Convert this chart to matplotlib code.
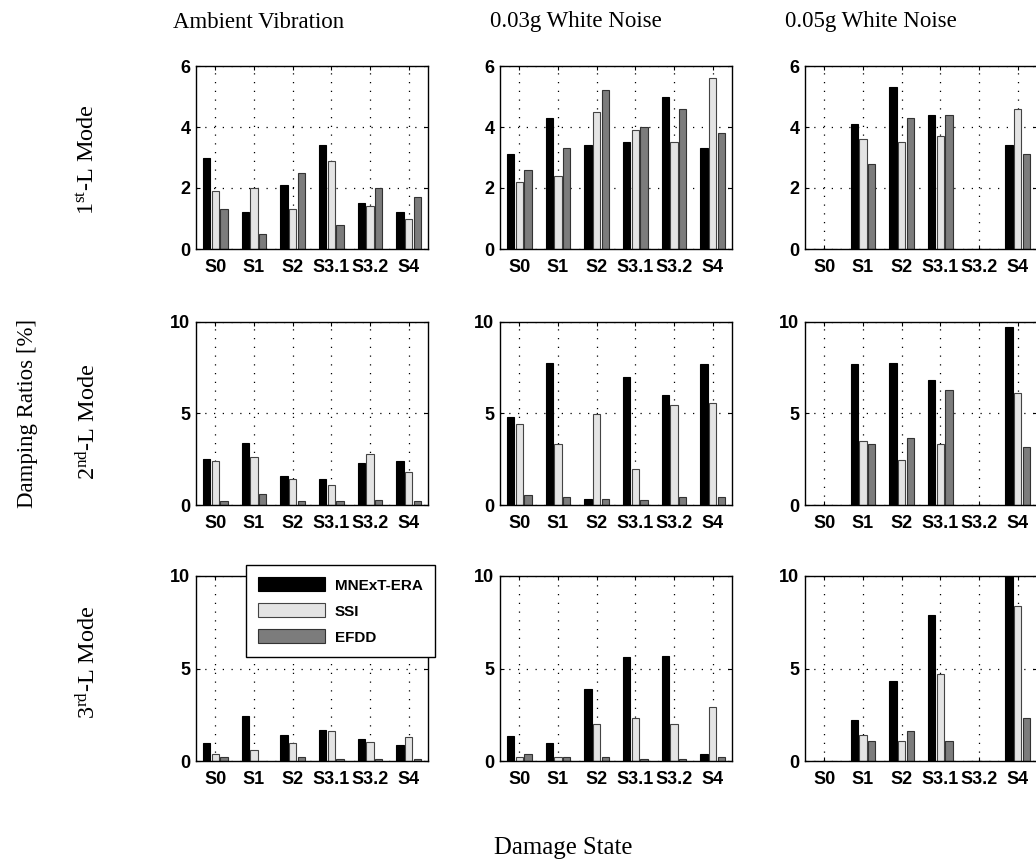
import matplotlib
matplotlib.use("Agg")
import matplotlib.pyplot as plt
import numpy as np

plt.rcParams['mathtext.fontset'] = 'custom'
plt.rcParams['mathtext.rm'] = 'Liberation Serif'
plt.rcParams['mathtext.it'] = 'Liberation Serif:italic'

states = ["S0", "S1", "S2", "S3.1", "S3.2", "S4"]
methods = ["MNExT-ERA", "SSI", "EFDD"]
columns = ["Ambient Vibration", "0.03g White Noise", "0.05g White Noise"]
rows = [r"1$^{\mathrm{st}}$-L Mode", r"2$^{\mathrm{nd}}$-L Mode", r"3$^{\mathrm{rd}}$-L Mode"]

# mode 1
m1_amb_era = [3.0, 1.2, 2.1, 3.4, 1.5, 1.2]
m1_amb_ssi = [1.9, 2.0, 1.3, 2.9, 1.4, 1.0]
m1_amb_efdd = [1.3, 0.5, 2.5, 0.8, 2.0, 1.7]
m1_w03_era = [3.1, 4.3, 3.4, 3.5, 5.0, 3.3]
m1_w03_ssi = [2.2, 2.4, 4.5, 3.9, 3.5, 5.6]
m1_w03_efdd = [2.6, 3.3, 5.2, 4.0, 4.6, 3.8]
m1_w05_era = [0.0, 4.1, 5.3, 4.4, 0.0, 3.4]
m1_w05_ssi = [0.0, 3.6, 3.5, 3.7, 0.0, 4.6]
m1_w05_efdd = [0.0, 2.8, 4.3, 4.4, 0.0, 3.1]
# mode 2
m2_amb_era = [2.5, 3.4, 1.6, 1.4, 2.3, 2.4]
m2_amb_ssi = [2.4, 2.6, 1.4, 1.1, 2.8, 1.8]
m2_amb_efdd = [0.2, 0.6, 0.2, 0.2, 0.3, 0.2]
m2_w03_era = [4.8, 7.75, 0.35, 7.0, 6.0, 7.7]
m2_w03_ssi = [4.45, 3.35, 4.95, 1.95, 5.45, 5.55]
m2_w03_efdd = [0.55, 0.42, 0.33, 0.25, 0.42, 0.42]
m2_w05_era = [0.0, 7.7, 7.75, 6.85, 0.0, 9.75]
m2_w05_ssi = [0.0, 3.5, 2.45, 3.35, 0.0, 6.1]
m2_w05_efdd = [0.0, 3.35, 3.65, 6.3, 0.0, 3.15]
# mode 3
m3_amb_era = [0.95, 2.45, 1.4, 1.7, 1.2, 0.85]
m3_amb_ssi = [0.4, 0.6, 0.95, 1.6, 1.05, 1.3]
m3_amb_efdd = [0.2, 0.0, 0.2, 0.1, 0.1, 0.1]
m3_w03_era = [1.35, 0.95, 3.9, 5.6, 5.7, 0.4]
m3_w03_ssi = [0.2, 0.2, 2.0, 2.3, 2.0, 2.9]
m3_w03_efdd = [0.4, 0.2, 0.2, 0.1, 0.1, 0.2]
m3_w05_era = [0.0, 2.2, 4.3, 7.9, 0.0, 10.6]
m3_w05_ssi = [0.0, 1.4, 1.1, 4.7, 0.0, 8.4]
m3_w05_efdd = [0.0, 1.1, 1.6, 1.1, 0.0, 2.3]

data = [
    [(m1_amb_era, m1_amb_ssi, m1_amb_efdd), (m1_w03_era, m1_w03_ssi, m1_w03_efdd), (m1_w05_era, m1_w05_ssi, m1_w05_efdd)],
    [(m2_amb_era, m2_amb_ssi, m2_amb_efdd), (m2_w03_era, m2_w03_ssi, m2_w03_efdd), (m2_w05_era, m2_w05_ssi, m2_w05_efdd)],
    [(m3_amb_era, m3_amb_ssi, m3_amb_efdd), (m3_w03_era, m3_w03_ssi, m3_w03_efdd), (m3_w05_era, m3_w05_ssi, m3_w05_efdd)],
]
ylims = [6, 10, 10]
yticks = [[0, 2, 4, 6], [0, 5, 10], [0, 5, 10]]

colors = ["#000000", "#e4e4e4", "#7c7c7c"]
edges = ["#000000", "#444444", "#333333"]

W, H = 1036, 865
fig = plt.figure(figsize=(W / 100, H / 100), dpi=100)

col_left = [196, 500, 805]
ax_w = 232
row_top = [66, 322, 576]
row_bot = [249, 505, 761]

tick_font = dict(family="Liberation Sans", weight="bold", size=13)
serif = "Liberation Serif"

x = np.arange(1, len(states) + 1)
spacing = 0.222
bw = 0.19
handles = None
for r in range(3):
    for c in range(3):
        l = col_left[c] / W
        b = 1 - row_bot[r] / H
        h = (row_bot[r] - row_top[r]) / H
        ax = fig.add_axes([l, b, ax_w / W, h])
        bars = []
        for k in range(3):
            bb = ax.bar(x + (k - 1) * spacing, data[r][c][k], width=bw, color=colors[k],
                        edgecolor=edges[k], linewidth=0.8, zorder=3, label=methods[k])
            bars.append(bb)
        if handles is None and r == 2 and c == 0:
            handles = bars
        ax.set_xlim(0.5, 6.5)
        ax.set_ylim(0, ylims[r])
        ax.set_xticks(x)
        ax.set_xticklabels(states, fontdict=tick_font)
        ax.set_yticks(yticks[r])
        ax.set_yticklabels([str(v) for v in yticks[r]], fontdict=tick_font)
        ax.grid(True, color="black", linestyle=(0, (1, 6)), linewidth=0.9, zorder=0)
        ax.tick_params(direction="in", length=3, width=0.8, top=True, right=True, pad=4)
        ax.tick_params(axis="x", pad=7)
        for s in ax.spines.values():
            s.set_linewidth(1.0)
            s.set_zorder(5)

# legend
leg = fig.legend(handles=handles, labels=methods, loc="upper left",
                 bbox_to_anchor=(246 / W, 1 - 565 / H), bbox_transform=fig.transFigure,
                 prop=dict(family="Liberation Sans", weight="bold", size=11),
                 handlelength=4.4, handleheight=1.05, handletextpad=0.6,
                 borderpad=0.8, labelspacing=0.7, borderaxespad=0, fancybox=False,
                 framealpha=1, edgecolor="black")
leg.get_frame().set_linewidth(1.0)

# column titles
title_left = [173, 490, 785]
for c, t in enumerate(columns):
    fig.text(title_left[c] / W, 1 - 22 / H, t, family=serif, size=16.5,
             ha="left", va="center")

# row labels
row_cent = [160, 422, 662]
for r, t in enumerate(rows):
    fig.text(88 / W, 1 - row_cent[r] / H, t, family=serif, size=17.5,
             rotation=90, ha="center", va="center")

fig.text(28 / W, 1 - 413 / H, "Damping Ratios [%]", family=serif, size=16.5,
         rotation=90, ha="center", va="center")
fig.text(563 / W, 1 - 848 / H, "Damage State", family=serif, size=17.8,
         ha="center", va="center")

fig.savefig("out.png", dpi=100)
